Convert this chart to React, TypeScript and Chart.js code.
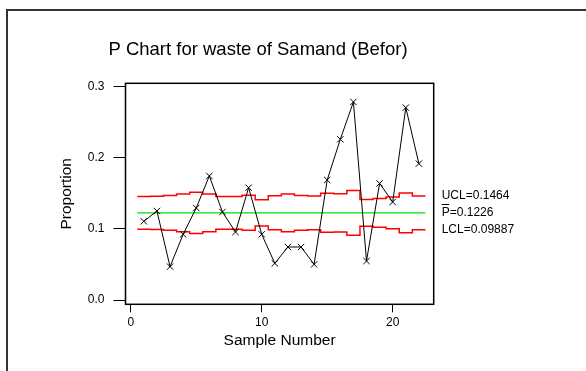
import React, { useEffect, useRef } from "react";
import { Chart, registerables } from "chart.js";

Chart.register(...registerables);

const titleText = "P Chart for waste of Samand (Befor)";
const xTitle = "Sample Number";
const yTitle = "Proportion";

const samples = [1, 2, 3, 4, 5, 6, 7, 8, 9, 10, 11, 12, 13, 14, 15, 16, 17, 18, 19, 20, 21, 22];
const proportions = [
  0.1107, 0.1252, 0.047, 0.0924, 0.1294, 0.1745, 0.1238, 0.0957, 0.158, 0.0924, 0.0516,
  0.0746, 0.0746, 0.0502, 0.1688, 0.226, 0.2786, 0.0549, 0.164, 0.1379, 0.2706, 0.1918,
];
const uclValues = [
  0.1455, 0.146, 0.147, 0.149, 0.1515, 0.149, 0.1455, 0.1455, 0.1472, 0.141, 0.1465,
  0.149, 0.147, 0.1463, 0.15, 0.1495, 0.154, 0.1413, 0.1428, 0.145, 0.1505, 0.1464,
];
const lclValues = [
  0.0997, 0.0992, 0.0982, 0.0962, 0.0937, 0.0962, 0.0997, 0.0997, 0.098, 0.1042, 0.0987,
  0.0962, 0.0982, 0.0989, 0.0952, 0.0957, 0.0912, 0.1039, 0.1024, 0.1002, 0.0947, 0.09887,
];
const centerValue = 0.1226;
const limitLabels = ["UCL=0.1464", "P=0.1226", "LCL=0.09887"];
const limitLabelValues = [0.1464, 0.1226, 0.09887];
const xTicks = [0, 10, 20];
const yTicks = [0, 0.1, 0.2, 0.3];

const FONT = '"Liberation Sans", Arial, Helvetica, sans-serif';

function stepData(values: number[]) {
  const pts: { x: number; y: number }[] = [];
  samples.forEach((s, i) => {
    pts.push({ x: s - 0.5, y: values[i] });
    pts.push({ x: s + 0.5, y: values[i] });
  });
  return pts;
}

export default function App() {
  const ref = useRef<HTMLCanvasElement>(null);

  useEffect(() => {
    const canvas = ref.current;
    if (!canvas) return;

    const decor = {
      id: "decor",
      afterDraw(chart: any) {
        const { ctx, chartArea: a, scales } = chart;
        ctx.save();
        ctx.strokeStyle = "#000";
        ctx.lineWidth = 1.5;
        ctx.strokeRect(a.left, a.top, a.right - a.left, a.bottom - a.top);

        ctx.fillStyle = "#000";
        ctx.font = `18.5px ${FONT}`;
        ctx.textAlign = "center";
        ctx.textBaseline = "middle";
        ctx.fillText(titleText, 258, 50);

        ctx.font = `12px ${FONT}`;
        ctx.textAlign = "left";
        const lx = a.right + 8;
        limitLabels.forEach((t, i) => {
          const y = scales.y.getPixelForValue(limitLabelValues[i]);
          ctx.fillText(t, lx, y);
          if (t.startsWith("P=")) {
            ctx.beginPath();
            ctx.lineWidth = 1;
            ctx.moveTo(lx, Math.round(y - 9) + 0.5);
            ctx.lineTo(lx + 7.5, Math.round(y - 9) + 0.5);
            ctx.stroke();
          }
        });
        ctx.restore();
      },
    };

    const chart = new Chart(canvas, {
      type: "line",
      data: {
        datasets: [
          {
            data: samples.map((s, i) => ({ x: s, y: proportions[i] })),
            borderColor: "#000",
            borderWidth: 1,
            pointStyle: "crossRot",
            pointRadius: 4.5,
            pointBorderColor: "#000",
            pointBorderWidth: 1,
            fill: false,
          },
          {
            data: [
              { x: samples[0] - 0.5, y: centerValue },
              { x: samples[samples.length - 1] + 0.5, y: centerValue },
            ],
            borderColor: "#00e000",
            borderWidth: 1.2,
            pointRadius: 0,
            fill: false,
          },
          {
            data: stepData(uclValues),
            borderColor: "#ff0000",
            borderWidth: 1.5,
            pointRadius: 0,
            fill: false,
          },
          {
            data: stepData(lclValues),
            borderColor: "#ff0000",
            borderWidth: 1.5,
            pointRadius: 0,
            fill: false,
          },
        ],
      },
      options: {
        responsive: false,
        animation: false,
        events: [],
        layout: { padding: { top: 83.3, right: 152.3, left: 0, bottom: 0 } },
        plugins: {
          legend: { display: false },
          tooltip: { enabled: false },
          title: { display: false },
        },
        scales: {
          x: {
            type: "linear",
            min: -0.4,
            max: 23.13,
            afterBuildTicks: (s: any) => {
              s.ticks = xTicks.map((v) => ({ value: v }));
            },
            afterFit: (s: any) => {
              s.height = 66.7;
            },
            grid: { drawOnChartArea: false, drawTicks: true, tickLength: 8, color: "#000", lineWidth: 1 },
            border: { display: false },
            ticks: {
              color: "#000",
              font: { size: 12, family: FONT },
              padding: 3,
              maxRotation: 0,
              callback: (v: any) => String(v),
            },
            title: {
              display: true,
              text: xTitle,
              color: "#000",
              font: { size: 15.5, family: FONT },
              padding: { top: 0, bottom: 21 },
            },
          },
          y: {
            type: "linear",
            min: -0.006,
            max: 0.3048,
            afterBuildTicks: (s: any) => {
              s.ticks = yTicks.map((v) => ({ value: v }));
            },
            afterFit: (s: any) => {
              s.width = 125.5;
            },
            grid: { drawOnChartArea: false, drawTicks: true, tickLength: 12, color: "#000", lineWidth: 1 },
            border: { display: false },
            ticks: {
              color: "#000",
              font: { size: 12, family: FONT },
              padding: 9,
              callback: (v: any) => Number(v).toFixed(1),
            },
            title: {
              display: true,
              text: yTitle,
              color: "#000",
              font: { size: 15.5, family: FONT },
              padding: { top: 57.7, bottom: 0 },
            },
          },
        },
      },
      plugins: [decor],
    } as any);

    return () => chart.destroy();
  }, []);

  return (
    <div style={{ position: "fixed", left: 0, top: 0, width: 586, height: 371, background: "#fff", overflow: "hidden" }}>
      <div
        style={{
          position: "absolute",
          left: 6,
          top: 9,
          width: 620,
          height: 400,
          borderLeft: "2px solid #333",
          borderTop: "2px solid #333",
        }}
      />
      <canvas ref={ref} width={586} height={371} style={{ position: "absolute", left: 0, top: 0, width: 586, height: 371 }} />
    </div>
  );
}
